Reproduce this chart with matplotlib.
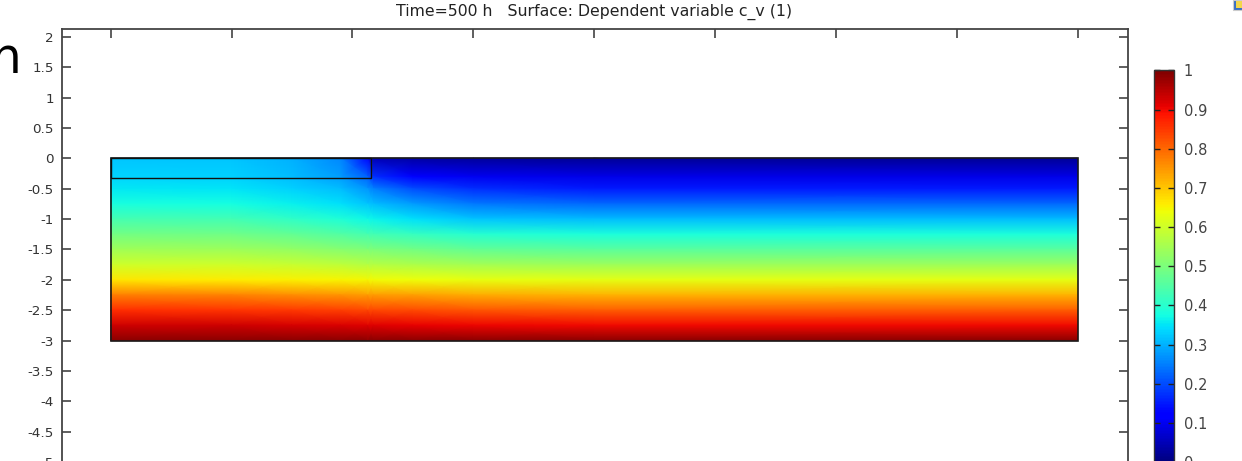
import numpy as np
import matplotlib
matplotlib.use("Agg")
import matplotlib.pyplot as plt
from matplotlib.patches import Rectangle

plt.rcParams['font.family'] = ['DejaVu Sans']
plt.rcParams['axes.unicode_minus'] = False

# ---- data ----
title = "Time=500 h   Surface: Dependent variable c_v (1)"
domain_x = [0.0, 16.0]
domain_y = [-3.0, 0.0]
layer_x = [0.0, 4.3]
layer_y = [-0.32, 0.0]

grid_x = [0.0, 2.0, 3.0, 3.8, 4.25, 4.35, 5.0, 6.0, 8.0, 16.0]
grid_y = [0.0, -0.3, -0.5, -0.75, -1.0, -1.25, -1.5, -1.75, -2.0, -2.25, -2.5, -2.75, -3.0]

col_x0    = [0.32, 0.335, 0.355, 0.38, 0.435, 0.49, 0.545, 0.60, 0.665, 0.775, 0.86, 0.93, 0.99]
col_x2    = [0.32, 0.33, 0.35, 0.375, 0.43, 0.485, 0.54, 0.60, 0.66, 0.77, 0.855, 0.93, 0.99]
col_x3    = [0.30, 0.31, 0.33, 0.36, 0.41, 0.47, 0.53, 0.59, 0.655, 0.76, 0.85, 0.925, 0.99]
col_x3_8  = [0.26, 0.28, 0.31, 0.345, 0.39, 0.45, 0.515, 0.58, 0.65, 0.75, 0.84, 0.92, 0.99]
col_x4_25 = [0.13, 0.22, 0.27, 0.32, 0.37, 0.435, 0.505, 0.57, 0.645, 0.745, 0.835, 0.915, 0.99]
col_x4_35 = [0.05, 0.17, 0.25, 0.31, 0.365, 0.43, 0.50, 0.57, 0.643, 0.745, 0.835, 0.915, 0.99]
col_x5    = [0.035, 0.12, 0.20, 0.28, 0.345, 0.415, 0.49, 0.56, 0.638, 0.74, 0.83, 0.91, 0.99]
col_x6    = [0.025, 0.10, 0.17, 0.245, 0.32, 0.395, 0.47, 0.55, 0.63, 0.73, 0.82, 0.905, 0.99]
col_x8    = [0.02, 0.09, 0.15, 0.23, 0.31, 0.385, 0.46, 0.54, 0.625, 0.72, 0.81, 0.90, 0.99]
col_x16   = [0.02, 0.09, 0.15, 0.23, 0.31, 0.385, 0.46, 0.54, 0.625, 0.72, 0.81, 0.90, 0.99]

y_ticks = [2, 1.5, 1, 0.5, 0, -0.5, -1, -1.5, -2, -2.5, -3, -3.5, -4, -4.5, -5]
y_ticklabels = ["2", "1.5", "1", "0.5", "0", "-0.5", "-1", "-1.5", "-2", "-2.5",
                "-3", "-3.5", "-4", "-4.5", "-5"]
x_ticks = [0, 2, 4, 6, 8, 10, 12, 14, 16]
cb_ticks = [0, 0.1, 0.2, 0.3, 0.4, 0.5, 0.6, 0.7, 0.8, 0.9, 1]
cb_ticklabels = ["0", "0.1", "0.2", "0.3", "0.4", "0.5", "0.6", "0.7", "0.8", "0.9", "1"]

# ---- figure ----
W, H = 1242, 461
fig = plt.figure(figsize=(W / 100, H / 100), dpi=100)

def fx(px):
    return px / W

def fy(py):
    return 1 - py / H

ylim = (-5.5, 2.123)
xlim = (-0.81, 16.84)
top_px, bot_px = 29.3, 158.3 + 5.5 * 60.76
ax = fig.add_axes([fx(61.7), fy(bot_px), fx(1128.3) - fx(61.7), (bot_px - top_px) / H])
ax.set_xlim(*xlim)
ax.set_ylim(*ylim)

C = np.array([col_x0, col_x2, col_x3, col_x3_8, col_x4_25, col_x4_35,
              col_x5, col_x6, col_x8, col_x16]).T
X, Y = np.meshgrid(grid_x, grid_y)
mesh = ax.pcolormesh(X, Y, C, shading='gouraud', cmap='jet', vmin=0, vmax=1, zorder=1)

ax.add_patch(Rectangle((domain_x[0], domain_y[0]), domain_x[1] - domain_x[0],
                       domain_y[1] - domain_y[0], fill=False, ec='#1a1a1a', lw=1.2, zorder=3))
ax.add_patch(Rectangle((layer_x[0], layer_y[0]), layer_x[1] - layer_x[0],
                       layer_y[1] - layer_y[0], fill=False, ec='#111111', lw=1.0, zorder=3))

ax.set_yticks(y_ticks)
ax.set_yticklabels(y_ticklabels)
ax.set_xticks(x_ticks)
ax.tick_params(axis='both', direction='in', top=True, right=True, length=6.5, width=1.1,
               color='#333333', labelsize=9.7, labelcolor='#333333', pad=5.5,
               labelbottom=False)
for s in ax.spines.values():
    s.set_color('#444444')
    s.set_linewidth(1.3)

fig.text(fx(594), fy(12), title, ha='center', va='center', fontsize=11.3, color='#222222')

# colorbar
cax = fig.add_axes([fx(1154), fy(462), fx(1174) - fx(1154), (462 - 70.5) / H])
cb = fig.colorbar(mesh, cax=cax, ticks=cb_ticks)
cb.set_ticklabels(cb_ticklabels)
cb.outline.set_edgecolor('#333333')
cb.outline.set_linewidth(1.0)
cax.tick_params(direction='in', left=True, right=True, length=4, width=1.0,
                color='#222222', labelsize=10.5, labelcolor='#444444', pad=7)

# screenshot fragments
fig.text(fx(21), fy(73), "n", ha='right', va='baseline', fontsize=35, color='black',
         family='DejaVu Sans', weight='medium')
fig.patches.append(Rectangle((fx(1233), fy(10)), fx(9), 10 / H, transform=fig.transFigure,
                             fc='#3a6fc4', ec='#cccccc', lw=0.8, figure=fig))
fig.patches.append(Rectangle((fx(1236), fy(8)), fx(6), 7 / H, transform=fig.transFigure,
                             fc='#f2d64b', ec='none', figure=fig))

fig.savefig("out.png", dpi=100)
